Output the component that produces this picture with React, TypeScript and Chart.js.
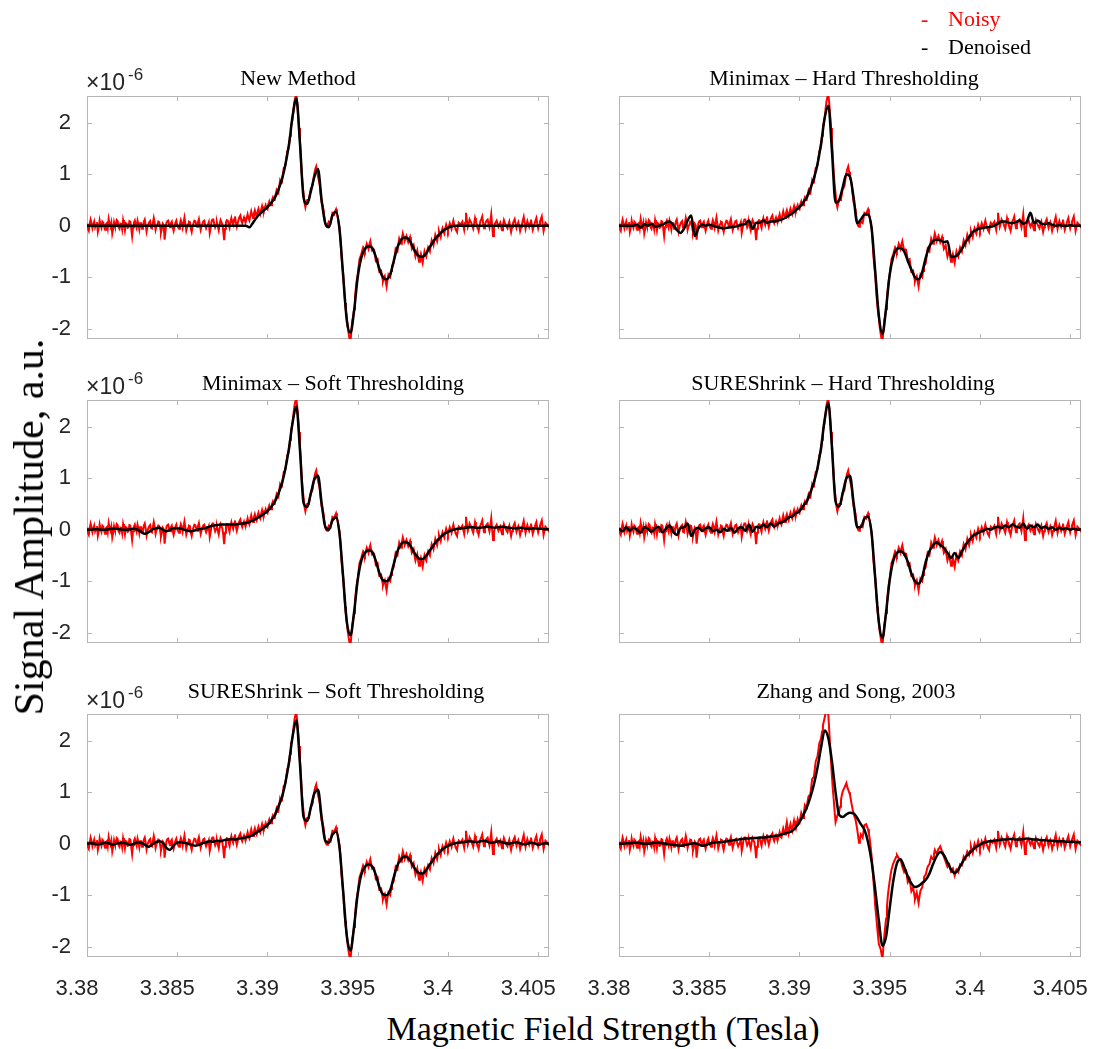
import React, { useEffect, useRef } from 'react';
import { Chart, registerables } from 'chart.js';

Chart.register(...registerables);

// ---------------- data ----------------
const FIELD_START = 3.38;
const NOISY_STEP = 0.00005;
const DENOISED_STEP = 0.0002;
const X_MIN = 3.38;
const X_MAX = 3.4056;
const Y_MIN = -2.2;
const Y_MAX = 2.52;
const X_TICKS = [3.38, 3.385, 3.39, 3.395, 3.4, 3.405];
const X_TICK_LABELS = ['3.38', '3.385', '3.39', '3.395', '3.4', '3.405'];
const Y_TICKS = [-2, -1, 0, 1, 2];
const Y_TICK_LABELS = ['-2', '-1', '0', '1', '2'];

// noisy spectrum (x1e-6), sampled every 0.00005 T from 3.3800 T (one row = 0.001 T)
const NOISY = [
  0.04, -0.06, -0.1, 0.03, 0.12, 0.05, -0.05, 0.02, 0.08, -0.03, 0.02, 0.07, -0.12, -0.04, 0.1, 0.01, -0.04, 0.08, 0.06, -0.02,
  -0.08, 0.03, 0.05, -0.05, 0.13, 0.04, -0.02, 0.06, -0.15, -0.06, 0.07, 0.0, 0.01, 0.11, 0.09, -0.03, -0.06, 0.04, 0.03, -0.07,
  0.11, 0.02, -0.09, 0.05, 0.04, -0.04, -0.03, 0.09, 0.08, -0.05, -0.2, -0.03, 0.06, 0.1, 0.02, -0.04, 0.1, 0.03, -0.07, 0.05,
  0.05, -0.06, -0.01, 0.08, 0.12, 0.02, -0.11, -0.02, 0.03, 0.07, 0.09, -0.04, -0.05, 0.05, 0.15, 0.06, -0.08, -0.01, 0.02, 0.08,
  0.07, -0.02, -0.13, -0.05, 0.04, 0.01, -0.27, -0.1, 0.05, 0.09, 0.1, 0.02, -0.03, 0.05, 0.08, -0.02, -0.1, -0.03, 0.06, 0.1,
  0.01, -0.03, -0.06, 0.04, 0.11, 0.05, -0.04, 0.06, 0.16, 0.04, -0.09, -0.02, 0.03, 0.08, 0.07, -0.05, -0.12, -0.02, 0.05, 0.1,
  0.09, 0.03, -0.02, 0.07, 0.13, 0.02, -0.08, -0.01, 0.04, 0.09, 0.1, 0.01, -0.05, 0.0, 0.02, 0.07, -0.14, -0.05, 0.08, 0.12,
  0.12, 0.04, -0.03, 0.02, 0.06, -0.02, -0.09, 0.03, 0.11, 0.07, 0.03, -0.1, -0.28, -0.06, 0.07, 0.11, 0.1, 0.02, -0.04, 0.08,
  0.15, 0.07, 0.02, 0.12, 0.18, 0.06, -0.02, 0.05, 0.12, 0.17, 0.2, 0.1, 0.05, 0.11, 0.16, 0.1, 0.08, 0.15, 0.22, 0.14,
  0.1, 0.2, 0.28, 0.2, 0.15, 0.24, 0.3, 0.22, 0.18, 0.27, 0.33, 0.26, 0.22, 0.31, 0.38, 0.3, 0.27, 0.35, 0.4, 0.34,
  0.32, 0.42, 0.47, 0.4, 0.4, 0.5, 0.55, 0.5, 0.5, 0.6, 0.68, 0.62, 0.62, 0.75, 0.88, 0.84, 0.85, 0.98, 1.12, 1.13,
  1.18, 1.32, 1.45, 1.48, 1.55, 1.75, 1.92, 2.0, 2.1, 2.28, 2.42, 2.5, 2.55, 2.38, 2.15, 1.9, 1.65, 1.32, 1.0, 0.8,
  0.62, 0.45, 0.36, 0.44, 0.5, 0.5, 0.52, 0.62, 0.72, 0.74, 0.78, 0.92, 1.02, 1.1, 1.15, 1.05, 0.95, 0.88, 0.78, 0.6,
  0.45, 0.4, 0.32, 0.18, 0.05, 0.0, -0.02, 0.04, 0.08, 0.06, 0.05, 0.15, 0.25, 0.24, 0.22, 0.28, 0.32, 0.24, 0.15, 0.05,
  -0.05, -0.3, -0.6, -0.78, -0.95, -1.25, -1.5, -1.65, -1.8, -1.98, -2.1, -2.2, -2.25, -2.05, -1.85, -1.75, -1.62, -1.4, -1.2, -1.05,
  -0.95, -0.8, -0.65, -0.6, -0.55, -0.48, -0.42, -0.46, -0.5, -0.42, -0.35, -0.4, -0.45, -0.36, -0.3, -0.4, -0.48, -0.46, -0.45, -0.55,
  -0.68, -0.66, -0.65, -0.78, -0.9, -0.9, -0.88, -0.98, -1.08, -1.02, -0.98, -1.08, -1.18, -1.05, -0.95, -0.98, -1.0, -0.88, -0.78, -0.76,
  -0.72, -0.58, -0.45, -0.48, -0.5, -0.36, -0.25, -0.3, -0.35, -0.24, -0.15, -0.22, -0.3, -0.25, -0.2, -0.26, -0.32, -0.27, -0.22, -0.34,
  -0.45, -0.42, -0.38, -0.5, -0.6, -0.54, -0.48, -0.6, -0.7, -0.62, -0.55, -0.64, -0.72, -0.6, -0.5, -0.56, -0.6, -0.5, -0.42, -0.46,
  -0.5, -0.38, -0.28, -0.33, -0.38, -0.28, -0.18, -0.24, -0.3, -0.2, -0.1, -0.16, -0.22, -0.12, -0.05, -0.1, -0.15, -0.06, 0.02, -0.04,
  -0.1, -0.02, 0.05, 0.0, -0.06, 0.03, 0.1, 0.02, -0.04, -0.09, -0.12, -0.02, 0.06, 0.04, 0.02, 0.05, 0.08, 0.0, -0.08, 0.06,
  0.25, 0.1, -0.02, 0.04, 0.12, 0.08, 0.05, -0.01, -0.06, 0.04, 0.15, 0.08, 0.03, -0.04, -0.1, 0.0, 0.09, 0.13, 0.18, 0.05,
  -0.05, 0.02, 0.07, 0.1, 0.12, 0.04, -0.03, 0.08, 0.22, 0.0, -0.2, -0.06, 0.04, 0.07, 0.1, 0.03, -0.02, 0.02, 0.06, -0.02,
  -0.09, 0.02, 0.11, 0.06, 0.02, -0.02, -0.05, 0.03, 0.08, -0.03, -0.12, -0.03, 0.05, 0.09, 0.13, 0.04, -0.04, 0.02, 0.07, 0.0,
  -0.1, -0.03, 0.03, 0.1, 0.17, 0.05, -0.06, 0.02, 0.09, 0.03, -0.02, 0.05, 0.12, 0.02, -0.08, -0.02, 0.04, 0.1, 0.15, 0.04,
  -0.05, 0.02, 0.08, 0.13, 0.18, 0.03, -0.1, -0.02, 0.06, 0.04, 0.02, -0.01, -0.03,
];

// central part (3.3880 T to 3.39995 T) of the noisy spectrum shown in the Zhang and Song panel
const NOISY_ZS_CENTRE_FROM = 160;
const NOISY_ZS_CENTRE = [
  0.15, 0.07, 0.02, 0.12, 0.18, 0.06, -0.02, 0.05, 0.12, 0.17, 0.2, 0.1, 0.05, 0.11, 0.16, 0.1, 0.08, 0.15, 0.22, 0.14,
  0.12, 0.22, 0.3, 0.24, 0.18, 0.32, 0.42, 0.3, 0.2, 0.3, 0.38, 0.3, 0.25, 0.36, 0.45, 0.36, 0.3, 0.4, 0.48, 0.42,
  0.4, 0.5, 0.6, 0.55, 0.5, 0.62, 0.75, 0.72, 0.7, 0.82, 0.92, 0.94, 0.95, 1.1, 1.25, 1.28, 1.3, 1.45, 1.6, 1.65,
  1.7, 1.82, 1.95, 2.0, 2.05, 2.18, 2.3, 2.38, 2.45, 2.55, 2.6, 2.55, 2.5, 2.2, 1.9, 1.6, 1.3, 1.05, 0.85, 0.62,
  0.42, 0.48, 0.55, 0.58, 0.62, 0.72, 0.85, 0.95, 1.02, 1.06, 1.1, 1.14, 1.18, 1.1, 1.05, 1.0, 0.95, 0.85, 0.75, 0.66,
  0.58, 0.52, 0.48, 0.38, 0.28, 0.15, 0.02, 0.1, 0.18, 0.15, 0.12, 0.24, 0.36, 0.37, 0.38, 0.33, 0.28, 0.18, 0.08, -0.08,
  -0.25, -0.48, -0.72, -0.95, -1.22, -1.4, -1.6, -1.78, -1.95, -2.0, -2.05, -2.15, -2.25, -2.0, -1.8, -1.62, -1.45, -1.22, -1.0, -0.85,
  -0.72, -0.6, -0.5, -0.44, -0.38, -0.34, -0.3, -0.26, -0.22, -0.25, -0.28, -0.3, -0.32, -0.38, -0.45, -0.5, -0.55, -0.52, -0.5, -0.62,
  -0.75, -0.72, -0.68, -0.8, -0.92, -0.88, -0.85, -0.96, -1.08, -1.02, -0.95, -1.05, -1.15, -1.02, -0.92, -0.88, -0.85, -0.75, -0.65, -0.62,
  -0.6, -0.52, -0.45, -0.42, -0.4, -0.32, -0.25, -0.28, -0.3, -0.2, -0.12, -0.16, -0.2, -0.15, -0.1, -0.08, -0.05, -0.1, -0.15, -0.2,
  -0.25, -0.3, -0.35, -0.4, -0.45, -0.42, -0.4, -0.48, -0.55, -0.5, -0.48, -0.55, -0.62, -0.56, -0.5, -0.52, -0.55, -0.48, -0.4, -0.41,
  -0.42, -0.34, -0.25, -0.28, -0.3, -0.22, -0.15, -0.18, -0.22, -0.14, -0.05, -0.12, -0.18, -0.09, 0.0, -0.05, -0.1, -0.02, 0.05, -0.03,
];
const NOISY_ZS = [
  ...NOISY.slice(0, NOISY_ZS_CENTRE_FROM),
  ...NOISY_ZS_CENTRE,
  ...NOISY.slice(NOISY_ZS_CENTRE_FROM + NOISY_ZS_CENTRE.length),
];

// denoised spectra (x1e-6), sampled every 0.0002 T from 3.3800 T
const DEN_NEW = [
  0, 0, 0, 0, 0, 0, 0, 0, 0, 0,
  0, 0, 0, 0, 0, 0, 0, 0, 0, 0,
  0, 0, 0, 0, 0, 0, 0, 0, 0, 0,
  0, 0, 0, 0, 0, 0, 0, 0, 0, 0,
  0, 0, 0, 0, 0, -0.03, 0.06, 0.16, 0.24, 0.3,
  0.36, 0.44, 0.54, 0.7, 0.9, 1.2, 1.6, 2.15, 2.47, 1.6,
  0.55, 0.42, 0.66, 0.95, 1.1, 0.5, 0.05, -0.03, 0.2, 0.27,
  -0.1, -1.0, -1.85, -2.08, -1.65, -1.0, -0.62, -0.45, -0.4, -0.43,
  -0.6, -0.84, -1.0, -1.04, -0.95, -0.68, -0.42, -0.27, -0.23, -0.25,
  -0.37, -0.51, -0.59, -0.6, -0.53, -0.41, -0.3, -0.21, -0.14, -0.08,
  -0.04, -0.01, 0, 0, 0, 0, 0, 0, 0, 0,
  0, 0, 0, 0, 0, 0, 0, 0, 0, 0,
  0, 0, 0, 0, 0, 0, 0, 0, 0,
];

const DEN_MINIMAX_HARD = [
  0, 0, 0, 0, 0, 0.02, -0.04, 0.03, 0, 0.04,
  -0.02, 0, 0.02, 0.06, 0.08, 0.02, -0.08, -0.14, -0.06, 0.1,
  0.2, -0.2, -0.05, 0.02, 0, 0.02, 0, -0.02, -0.04, -0.05,
  -0.04, -0.03, -0.02, 0, 0.02, 0.03, 0.1, -0.06, 0.06, 0.06,
  0.1, 0.06, 0.08, 0.08, 0.1, 0.12, 0.15, 0.2, 0.24, 0.3,
  0.36, 0.45, 0.55, 0.72, 0.92, 1.2, 1.6, 2.1, 2.33, 1.45,
  0.45, 0.5, 0.75, 1.0, 0.95, 0.55, 0.05, 0.12, 0.22, 0.22,
  -0.05, -0.9, -1.75, -2.1, -1.6, -0.95, -0.6, -0.45, -0.43, -0.5,
  -0.68, -0.85, -1.0, -1.04, -0.9, -0.62, -0.4, -0.3, -0.27, -0.28,
  -0.32, -0.3, -0.6, -0.6, -0.55, -0.45, -0.32, -0.22, -0.12, -0.08,
  -0.05, -0.04, -0.03, -0.02, 0, 0.04, 0.08, 0.08, 0.06, 0.05,
  0.07, 0.1, 0.04, 0.08, 0.25, 0.05, 0.1, 0.04, 0.03, 0.05,
  0.02, 0, 0.01, 0, 0, 0.01, 0, 0, 0,
];

const DEN_MINIMAX_SOFT = [
  0, 0, 0.01, 0.01, 0, 0, 0.01, 0.02, 0.02, 0.01,
  0, 0, 0.01, 0.02, 0, -0.04, -0.08, -0.05, 0, 0.03,
  0.04, 0, -0.03, 0, 0.03, 0.03, 0.02, 0, -0.02, -0.03,
  -0.01, 0.01, 0.02, 0.04, 0.06, 0.08, 0.09, 0.1, 0.1, 0.1,
  0.1, 0.1, 0.11, 0.12, 0.13, 0.15, 0.18, 0.22, 0.26, 0.31,
  0.36, 0.44, 0.54, 0.7, 0.9, 1.2, 1.6, 2.1, 2.4, 1.55,
  0.52, 0.44, 0.7, 0.98, 1.05, 0.52, 0.06, 0, 0.18, 0.24,
  -0.1, -0.95, -1.8, -2.05, -1.6, -0.98, -0.6, -0.45, -0.4, -0.43,
  -0.6, -0.84, -0.98, -1.0, -0.92, -0.66, -0.42, -0.28, -0.24, -0.26,
  -0.36, -0.48, -0.56, -0.57, -0.5, -0.4, -0.3, -0.21, -0.14, -0.08,
  -0.04, -0.01, 0.01, 0.02, 0.03, 0.04, 0.05, 0.05, 0.04, 0.04,
  0.05, 0.06, 0.05, 0.04, 0.05, 0.06, 0.05, 0.04, 0.03, 0.03,
  0.04, 0.03, 0.02, 0.02, 0.03, 0.02, 0.02, 0.01, 0.01,
];

const DEN_SURE_HARD = [
  0.02, -0.03, 0.05, -0.02, 0.04, 0, -0.06, 0.05, 0.02, -0.04,
  0.03, 0.06, -0.05, 0.02, 0.08, -0.04, -0.1, 0.03, 0.05, 0.12,
  -0.12, 0, 0.04, -0.02, 0.03, 0.05, -0.03, 0, -0.05, 0.02,
  -0.02, 0.04, -0.06, 0.03, 0.05, -0.02, 0.1, -0.04, 0.06, 0.04,
  0.1, 0.05, 0.12, 0.06, 0.12, 0.14, 0.18, 0.24, 0.26, 0.32,
  0.36, 0.46, 0.55, 0.72, 0.92, 1.2, 1.6, 2.15, 2.45, 1.6,
  0.55, 0.45, 0.72, 1.0, 1.05, 0.52, 0.05, 0.05, 0.22, 0.25,
  -0.08, -0.95, -1.8, -2.1, -1.6, -0.98, -0.6, -0.45, -0.42, -0.47,
  -0.62, -0.85, -1.0, -1.05, -0.92, -0.62, -0.42, -0.3, -0.25, -0.3,
  -0.35, -0.45, -0.55, -0.45, -0.55, -0.42, -0.3, -0.2, -0.12, -0.08,
  -0.04, -0.02, 0.02, 0, 0.04, 0.06, 0.03, 0.08, 0.05, 0.1,
  0.06, 0.04, 0.12, 0.02, 0.08, 0.05, 0.1, 0.03, 0.06, 0.02,
  0.05, 0, 0.04, 0.01, 0.03, 0, 0.02, 0, 0.01,
];

const DEN_SURE_SOFT = [
  0, 0.01, 0, -0.01, 0, 0.02, 0.01, -0.02, 0, 0.01,
  0.02, 0, -0.02, 0, 0.03, 0.02, -0.02, -0.06, -0.02, 0.03,
  0.05, 0.02, -0.08, -0.12, -0.03, 0.02, 0.03, 0.02, 0, -0.02,
  -0.04, -0.02, 0.01, 0.03, 0.05, 0.04, 0.06, 0.05, 0.07, 0.08,
  0.09, 0.08, 0.1, 0.11, 0.12, 0.14, 0.17, 0.22, 0.26, 0.31,
  0.36, 0.45, 0.55, 0.72, 0.9, 1.2, 1.6, 2.1, 2.4, 1.55,
  0.52, 0.44, 0.7, 0.98, 1.05, 0.52, 0.06, 0.02, 0.18, 0.24,
  -0.1, -0.95, -1.8, -2.08, -1.6, -0.98, -0.6, -0.45, -0.4, -0.44,
  -0.6, -0.84, -0.98, -1.0, -0.9, -0.65, -0.42, -0.3, -0.25, -0.28,
  -0.38, -0.5, -0.57, -0.58, -0.5, -0.4, -0.3, -0.21, -0.14, -0.08,
  -0.04, -0.01, 0.01, 0.02, 0.03, 0.04, 0.05, 0.04, 0.03, 0.05,
  0.06, 0.04, 0.02, 0.03, 0.05, 0.03, 0.01, 0, 0.02, 0.03,
  0.01, -0.01, 0, 0.02, 0.01, -0.02, 0, 0.01, 0,
];

const DEN_ZHANG_SONG = [
  0, 0, 0.01, 0.01, 0.02, 0.02, 0.01, 0, 0, 0.01,
  0.02, 0.02, 0.01, 0, -0.01, -0.02, -0.03, -0.04, -0.03, -0.01,
  0, 0.01, -0.01, -0.04, -0.03, 0, 0.02, 0.03, 0.03, 0.04,
  0.05, 0.06, 0.07, 0.08, 0.09, 0.1, 0.1, 0.11, 0.11, 0.12,
  0.12, 0.13, 0.14, 0.15, 0.16, 0.18, 0.2, 0.22, 0.25, 0.32,
  0.42, 0.55, 0.7, 0.9, 1.15, 1.48, 1.88, 2.2, 2.05, 1.6,
  1.0, 0.56, 0.52, 0.57, 0.6, 0.59, 0.5, 0.38, 0.27, 0.03,
  -0.35, -0.9, -1.5, -1.98, -1.8, -1.25, -0.72, -0.38, -0.3, -0.45,
  -0.63, -0.77, -0.84, -0.82, -0.76, -0.7, -0.58, -0.4, -0.24, -0.16,
  -0.22, -0.36, -0.5, -0.57, -0.5, -0.38, -0.26, -0.19, -0.12, -0.06,
  -0.02, 0.02, 0.04, 0.05, 0.06, 0.07, 0.08, 0.08, 0.09, 0.09,
  0.08, 0.08, 0.09, 0.1, 0.09, 0.08, 0.08, 0.07, 0.07, 0.06,
  0.06, 0.05, 0.05, 0.05, 0.04, 0.04, 0.04, 0.03, 0.03,
];

const TITLES = [
  'New Method',
  'Minimax \u2013 Hard Thresholding',
  'Minimax \u2013 Soft Thresholding',
  'SUREShrink \u2013 Hard Thresholding',
  'SUREShrink \u2013 Soft Thresholding',
  'Zhang and Song, 2003',
];
const NOISY_SETS = [NOISY, NOISY, NOISY, NOISY, NOISY, NOISY_ZS];
const DENOISED_SETS = [DEN_NEW, DEN_MINIMAX_HARD, DEN_MINIMAX_SOFT, DEN_SURE_HARD, DEN_SURE_SOFT, DEN_ZHANG_SONG];

// ---------------- layout ----------------
const COL_LEFT = [87, 619];
const ROW_TOP = [96, 400, 714];
const PLOT_W = 462;
const PLOT_H = 243;
const AXIS_W = 80;
const HEAD_H = 40;
const FOOT_H = 50;
const PAD_R = 30;
const CANVAS_W = AXIS_W + PLOT_W + PAD_R;
const CANVAS_H = HEAD_H + PLOT_H + FOOT_H;
const TITLE_X = [298, 844, 333, 843, 336, 856];
const TITLE_RAISE = [11, 10, 16];

const SANS = '"Liberation Sans", Arial, Helvetica, sans-serif';
const SERIF = '"Liberation Serif", "Times New Roman", serif';
const TICK_COLOR = '#262626';
const BOX_COLOR = '#b5b5b5';

function Panel({ idx }: { idx: number }) {
  const ref = useRef<HTMLCanvasElement | null>(null);
  const col = idx % 2;
  const row = Math.floor(idx / 2);
  const canvasLeft = COL_LEFT[col] - AXIS_W;
  const canvasTop = ROW_TOP[row] - HEAD_H;

  useEffect(() => {
    const canvas = ref.current;
    if (!canvas) return;
    const noisy = NOISY_SETS[idx].map((v, i) => ({ x: FIELD_START + i * NOISY_STEP, y: v }));
    const den = DENOISED_SETS[idx].map((v, i) => ({ x: FIELD_START + i * DENOISED_STEP, y: v }));
    const showX = row === 2;
    const showY = col === 0;

    const decor = {
      id: 'matlabDecor',
      beforeDatasetsDraw(chart: any) {
        const { ctx, chartArea } = chart;
        const { left, right, top, bottom } = chartArea;
        const xs = chart.scales.x;
        const ys = chart.scales.y;
        ctx.save();
        ctx.strokeStyle = BOX_COLOR;
        ctx.lineWidth = 1;
        ctx.strokeRect(left + 0.5, top + 0.5, right - left - 1, bottom - top - 1);
        ctx.beginPath();
        X_TICKS.forEach((v) => {
          const px = Math.round(xs.getPixelForValue(v)) + 0.5;
          ctx.moveTo(px, bottom);
          ctx.lineTo(px, bottom - 5);
          ctx.moveTo(px, top);
          ctx.lineTo(px, top + 5);
        });
        Y_TICKS.forEach((v) => {
          const py = Math.round(ys.getPixelForValue(v)) + 0.5;
          ctx.moveTo(left, py);
          ctx.lineTo(left + 5, py);
          ctx.moveTo(right, py);
          ctx.lineTo(right - 5, py);
        });
        ctx.stroke();
        ctx.restore();
      },
      afterDraw(chart: any) {
        const { ctx, chartArea } = chart;
        ctx.save();
        ctx.fillStyle = '#000';
        ctx.font = `22px ${SERIF}`;
        ctx.textAlign = 'center';
        ctx.textBaseline = 'alphabetic';
        ctx.fillText(TITLES[idx], TITLE_X[idx] - canvasLeft, chartArea.top - TITLE_RAISE[row]);
        if (showY) {
          ctx.fillStyle = TICK_COLOR;
          ctx.textAlign = 'left';
          ctx.font = `23px ${SANS}`;
          const base = '\u00d710';
          const bx = chartArea.left - 1;
          ctx.fillText(base, bx, chartArea.top - 6);
          const w = ctx.measureText(base).width;
          ctx.font = `17px ${SANS}`;
          ctx.fillText('-6', bx + w + 3, chartArea.top - 16);
        }
        ctx.restore();
      },
    };

    const chart = new Chart(canvas, {
      type: 'line',
      data: {
        datasets: [
          {
            label: 'Denoised',
            data: den,
            borderColor: '#000000',
            borderWidth: 2.5,
            pointRadius: 0,
            cubicInterpolationMode: 'monotone',
            order: 1,
          },
          {
            label: 'Noisy',
            data: noisy,
            borderColor: '#ff0000',
            borderWidth: 2,
            pointRadius: 0,
            tension: 0,
            order: 2,
          },
        ],
      },
      options: {
        responsive: false,
        animation: false,
        devicePixelRatio: 1,
        layout: { padding: { left: 0, right: PAD_R, top: HEAD_H, bottom: 0 } },
        plugins: { legend: { display: false }, tooltip: { enabled: false }, title: { display: false } },
        events: [],
        scales: {
          x: {
            type: 'linear',
            min: X_MIN,
            max: X_MAX,
            grid: { display: false },
            border: { display: false },
            afterBuildTicks: (s: any) => {
              s.ticks = X_TICKS.map((v) => ({ value: v }));
            },
            afterFit: (s: any) => {
              s.height = FOOT_H;
            },
            ticks: {
              display: showX,
              autoSkip: false,
              maxRotation: 0,
              padding: 11,
              labelOffset: -10,
              color: TICK_COLOR,
              font: { family: SANS, size: 22 },
              callback: (_v: any, i: number) => X_TICK_LABELS[i],
            },
          },
          y: {
            type: 'linear',
            min: Y_MIN,
            max: Y_MAX,
            grid: { display: false },
            border: { display: false },
            afterBuildTicks: (s: any) => {
              s.ticks = Y_TICKS.map((v) => ({ value: v }));
            },
            afterFit: (s: any) => {
              s.width = AXIS_W;
            },
            ticks: {
              display: showY,
              autoSkip: false,
              padding: 8,
              color: TICK_COLOR,
              font: { family: SANS, size: 22 },
              callback: (_v: any, i: number) => Y_TICK_LABELS[i],
            },
          },
        },
      },
      plugins: [decor],
    } as any);
    return () => chart.destroy();
  }, [idx]);

  return (
    <canvas
      ref={ref}
      width={CANVAS_W}
      height={CANVAS_H}
      style={{ position: 'absolute', left: canvasLeft, top: canvasTop, width: CANVAS_W, height: CANVAS_H }}
    />
  );
}

export default function App() {
  return (
    <div
      style={{
        position: 'absolute',
        left: 0,
        top: 0,
        width: 1106,
        height: 1049,
        overflow: 'hidden',
        background: '#ffffff',
      }}
    >
      {[0, 1, 2, 3, 4, 5].map((i) => (
        <Panel key={i} idx={i} />
      ))}
      {/* legend */}
      <div style={{ position: 'absolute', left: 921, top: 7.6, font: `22px ${SERIF}`, lineHeight: '22px', color: '#ff0000', whiteSpace: 'nowrap' }}>-</div>
      <div style={{ position: 'absolute', left: 948, top: 7.6, font: `22px ${SERIF}`, lineHeight: '22px', color: '#ff0000', whiteSpace: 'nowrap' }}>Noisy</div>
      <div style={{ position: 'absolute', left: 921, top: 35.6, font: `22px ${SERIF}`, lineHeight: '22px', color: '#000000', whiteSpace: 'nowrap' }}>-</div>
      <div style={{ position: 'absolute', left: 948, top: 35.6, font: `22px ${SERIF}`, lineHeight: '22px', color: '#000000', whiteSpace: 'nowrap' }}>Denoised</div>
      {/* axis labels */}
      <div
        style={{
          position: 'absolute',
          left: 603,
          top: 1011.5,
          transform: 'translateX(-50%)',
          font: `34px ${SERIF}`,
          lineHeight: '34px',
          color: '#000',
          whiteSpace: 'nowrap',
        }}
      >
        Magnetic Field Strength (Tesla)
      </div>
      <div
        style={{
          position: 'absolute',
          left: 28.8,
          top: 526.5,
          transform: 'translate(-50%, -50%) rotate(-90deg)',
          font: `42px ${SERIF}`,
          lineHeight: '42px',
          color: '#000',
          whiteSpace: 'nowrap',
        }}
      >
        Signal Amplitude, a.u.
      </div>
    </div>
  );
}
